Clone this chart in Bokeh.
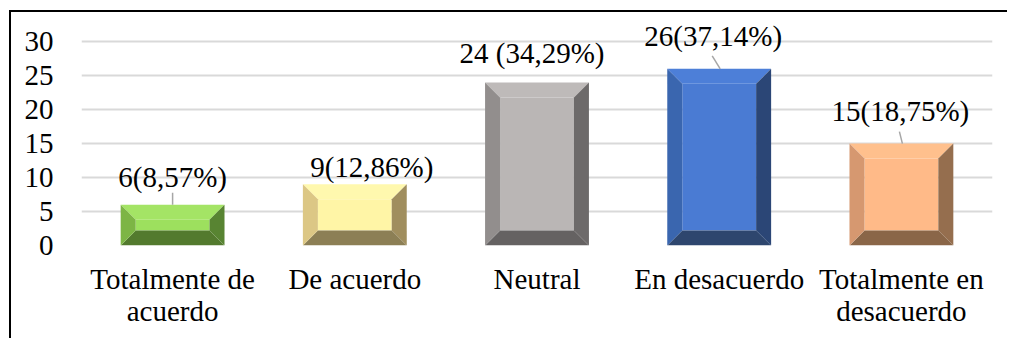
from bokeh.plotting import figure
from bokeh.models import FixedTicker, Range1d
from bokeh.embed import file_html
from bokeh.resources import INLINE
from bokeh.core.properties import value

# ---- data ----
categories = ["Totalmente de\nacuerdo", "De acuerdo", "Neutral", "En desacuerdo", "Totalmente en\ndesacuerdo"]
counts = [6, 9, 24, 26, 15]
bar_labels = ["6(8,57%)", "9(12,86%)", "24 (34,29%)", "26(37,14%)", "15(18,75%)"]
y_ticks = [0, 5, 10, 15, 20, 25, 30]

# ---- styles ----
face_colors = ["#9DE05E", "#FFF5A6", "#BAB6B5", "#4A7BD3", "#FFBA88"]
top_colors = ["#A4E465", "#FFF8AE", "#BEBAB9", "#4D7FD8", "#FFC08D"]
left_colors = ["#7DB545", "#DCC785", "#928E8D", "#3A66AF", "#D69870"]
right_colors = ["#588432", "#A08E5E", "#6D6A6A", "#2B4676", "#956E4E"]
bottom_colors = ["#537A2E", "#8C7F55", "#656262", "#2E466E", "#8A6648"]
label_dx = [0, 17, -5, -6, -1]      # px
label_dy = [28, 17, 29, 33, 33]     # px above bar top
leader = [(0, 0, 12), None, None, (1, -7, 13), (1, -2, 12)]  # (dx bottom px, dx top px, length px)

FONT = "Liberation Serif"
Y_MAX = 34
FRAME_W, FRAME_H = 911, 231
PX_X = FRAME_W / len(categories)
PX_Y = FRAME_H / Y_MAX

p = figure(width=998, height=328, output_backend="svg", toolbar_location=None,
           x_range=Range1d(0, len(categories)), y_range=Range1d(0, Y_MAX),
           min_border_left=70, min_border_right=17, min_border_top=2, min_border_bottom=95)
p.styles = {"border-left": "2px solid black", "border-top": "2px solid black",
            "margin-left": "9px", "margin-top": "10px"}
p.outline_line_color = None
p.background_fill_color = "white"
p.border_fill_color = "white"

# axes
p.xaxis.ticker = FixedTicker(ticks=[i + 0.5 for i in range(len(categories))])
p.xaxis.major_label_overrides = {i + 0.5: c for i, c in enumerate(categories)}
p.yaxis.ticker = FixedTicker(ticks=y_ticks)
for ax in (p.xaxis, p.yaxis):
    ax.axis_line_color = None
    ax.major_tick_line_color = None
    ax.minor_tick_line_color = None
    ax.major_label_text_font = FONT
    ax.major_label_text_font_size = "29px"
    ax.major_label_text_color = "black"
p.xaxis.major_label_standoff = 11
p.xaxis.major_label_text_line_height = 1.0
p.yaxis.major_label_standoff = 22
p.xgrid.visible = False
p.ygrid.ticker = FixedTicker(ticks=y_ticks)
p.ygrid.grid_line_color = "#D9D9D9"
p.ygrid.grid_line_width = 2

# bevelled bars
bw = 0.285
bx = 15 / PX_X
xs, ys, cols = [], [], []
for i, v in enumerate(counts):
    c = i + 0.5
    by = min(15 / PX_Y, v * 0.37)
    L, R = c - bw, c + bw
    Li, Ri = L + bx, R - bx
    polys = [
        ([Li, Ri, Ri, Li], [by, by, v - by, v - by], face_colors[i]),
        ([L, R, Ri, Li], [v, v, v - by, v - by], top_colors[i]),
        ([L, R, Ri, Li], [0, 0, by, by], bottom_colors[i]),
        ([L, L, Li, Li], [0, v, v - by, by], left_colors[i]),
        ([R, R, Ri, Ri], [0, v, v - by, by], right_colors[i]),
    ]
    for px_, py_, col in polys:
        xs.append(px_); ys.append(py_); cols.append(col)
p.patches(xs=xs, ys=ys, fill_color=cols, line_color=None)

# leader lines
lx0, ly0, lx1, ly1 = [], [], [], []
for i, v in enumerate(counts):
    if leader[i] is None:
        continue
    dxb, dxt, ln = leader[i]
    c = i + 0.5
    lx0.append(c + dxb / PX_X); ly0.append(v)
    lx1.append(c + dxt / PX_X); ly1.append(v + ln / PX_Y)
p.segment(x0=lx0, y0=ly0, x1=lx1, y1=ly1, line_color="#A6A6A6", line_width=1.5)

# data labels
p.text(x=[i + 0.5 for i in range(len(counts))], y=counts, text=bar_labels,
       x_offset=label_dx, y_offset=[-d for d in label_dy],
       text_font=value(FONT), text_font_size="29px", text_color="black",
       text_align="center", text_baseline="middle")

open("out.html", "w").write(file_html(p, INLINE))
